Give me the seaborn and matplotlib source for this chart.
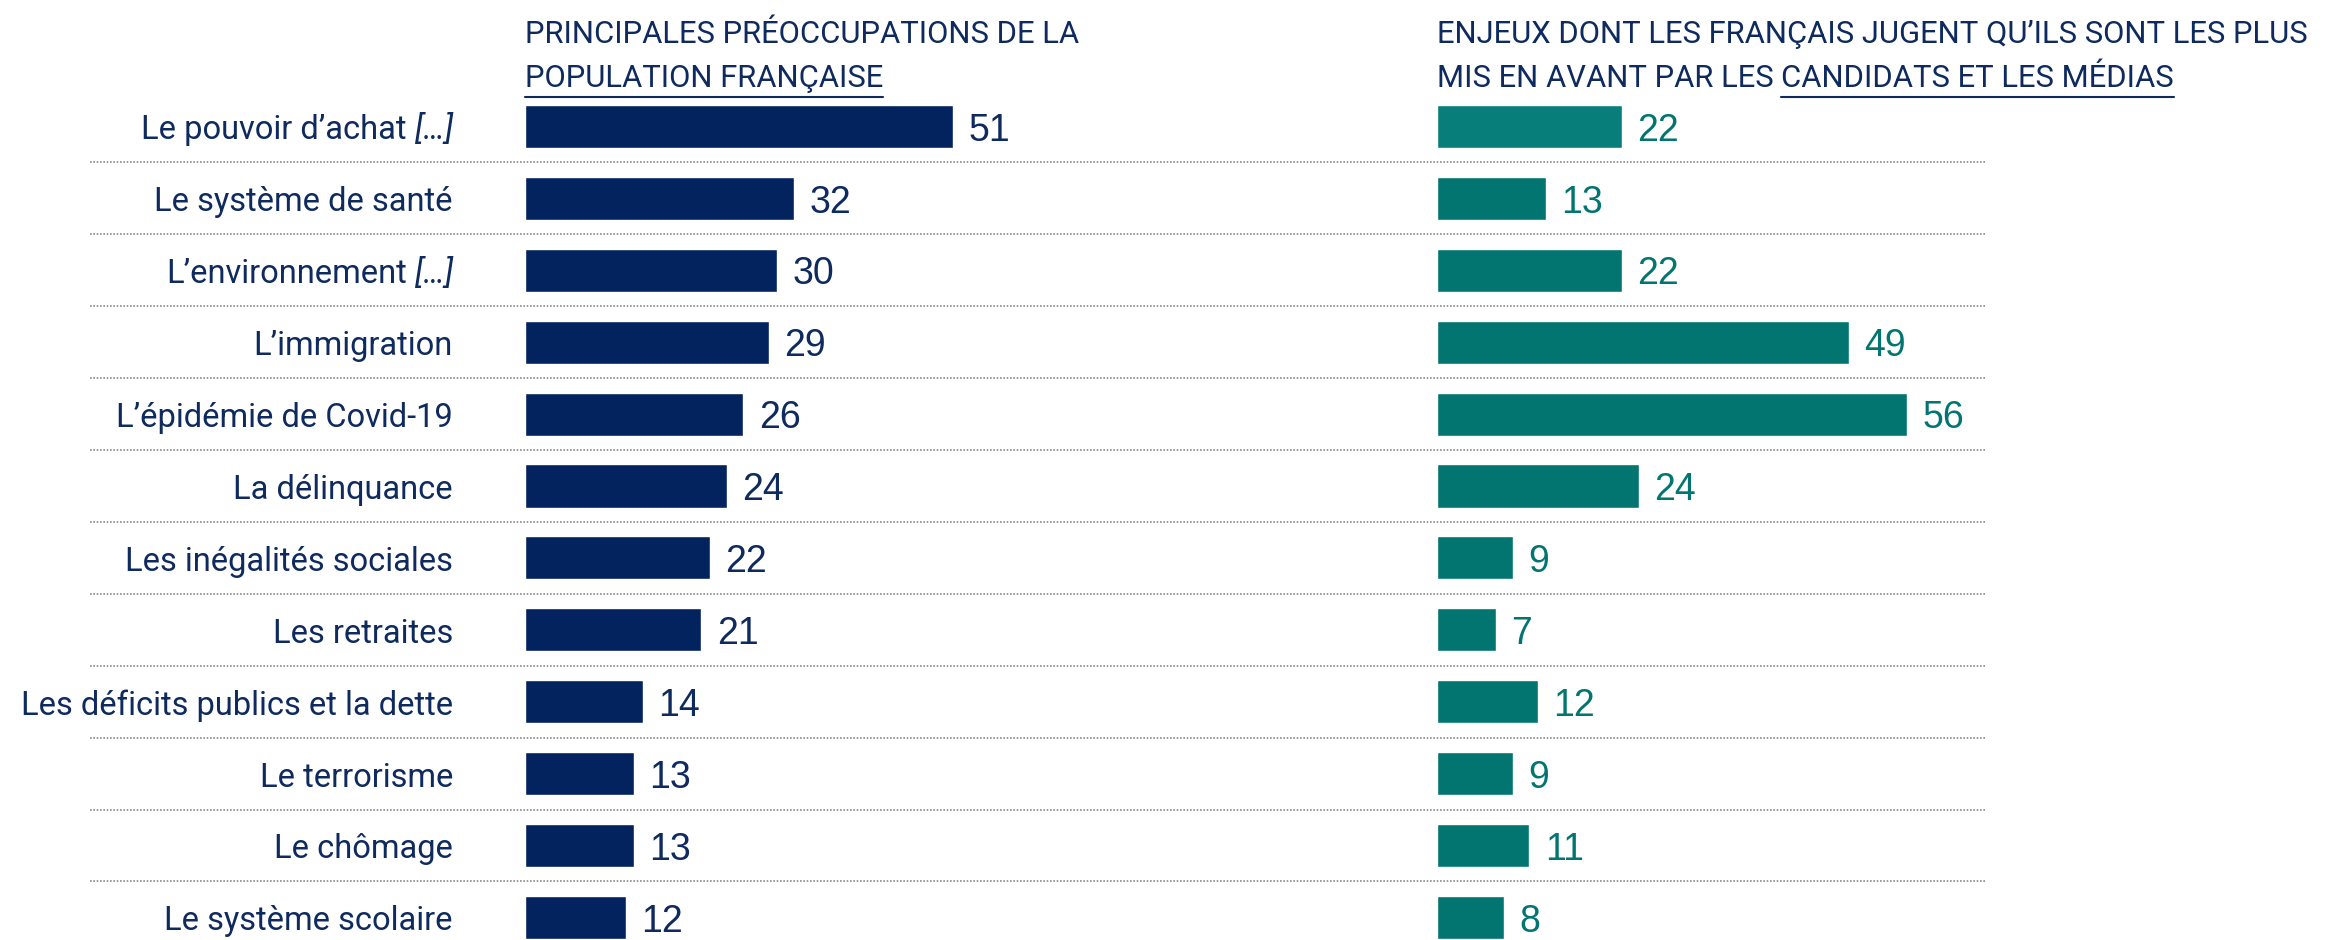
import matplotlib
matplotlib.use("Agg")
import matplotlib.pyplot as plt
import seaborn as sns
import pandas as pd
from matplotlib.lines import Line2D

# Data (percentages)
categories = [
    "Le pouvoir d’achat",
    "Le système de santé",
    "L’environnement",
    "L’immigration",
    "L’épidémie de Covid-19",
    "La délinquance",
    "Les inégalités sociales",
    "Les retraites",
    "Les déficits publics et la dette",
    "Le terrorisme",
    "Le chômage",
    "Le système scolaire",
]
# italic suffix shown after some labels
suffixes = ["[…]", "", "[…]", "", "", "", "", "", "", "", "", ""]
population = [51, 32, 30, 29, 26, 24, 22, 21, 14, 13, 13, 12]
medias = [22, 13, 22, 49, 56, 24, 9, 7, 12, 9, 11, 8]

title_left = ["PRINCIPALES PRÉOCCUPATIONS DE LA", "POPULATION FRANÇAISE"]
title_right = ["ENJEUX DONT LES FRANÇAIS JUGENT QU’ILS SONT LES PLUS",
               "MIS EN AVANT PAR LES", "CANDIDATS ET LES MÉDIAS"]

NAVY = "#03235F"
NAVY_TXT = "#0E2A5E"
TEAL = "#037571"
TEAL_LIGHT = "#077E7A"   # first teal bar is a touch lighter

sns.set_style("white")
plt.rcParams["font.family"] = ["Roboto", "DejaVu Sans"]

# layout in pixels
W, H = 2331, 940
ppu = 8.4             # pixels per percentage point
x_left, x_right = 525, 1437
row0, step = 126.5, 71.9
xmax = 60
top = row0 - 0.5 * step

fig = plt.figure(figsize=(W / 100, H / 100), dpi=100)
ax1 = fig.add_axes([x_left / W, 0, xmax * ppu / W, (H - top) / H])
ax2 = fig.add_axes([x_right / W, 0, xmax * ppu / W, (H - top) / H])

df = pd.DataFrame({"cat": categories, "pop": population, "med": medias})
teal_pal = [TEAL_LIGHT] + [TEAL] * (len(categories) - 1)

sns.barplot(data=df, x="pop", y="cat", ax=ax1, color=NAVY, width=0.6,
            saturation=1, orient="h")
sns.barplot(data=df, x="med", y="cat", hue="cat", palette=teal_pal, legend=False,
            ax=ax2, width=0.6, saturation=1, orient="h")

ybottom = (H - row0) / step
for ax, col in [(ax1, NAVY_TXT), (ax2, TEAL)]:
    ax.set_xlim(0, xmax)
    ax.set_ylim(ybottom, -0.5)
    ax.set_xlabel("")
    ax.set_ylabel("")
    ax.set_xticks([])
    ax.set_yticks([])
    ax.set_facecolor("none")
    sns.despine(ax=ax, left=True, bottom=True)
    for cont in ax.containers:
        anns = ax.bar_label(cont, padding=11, fontsize=27, color=col,
                            family=["Liberation Sans", "DejaVu Sans"])
        for a in anns:
            a.xyann = (11, -3)

# dotted separators between rows
sep_x0 = (90 - x_left) / ppu
sep_x1 = (1985 - x_left) / ppu
ax1.hlines([i + 0.5 for i in range(len(categories) - 1)], sep_x0, sep_x1,
           colors="#8a8a8a", linestyles=(0, (1, 1)), linewidth=1.2, clip_on=False)

fig.canvas.draw()
renderer = fig.canvas.get_renderer()

# category labels, right aligned, italic suffix where needed
lab_x = (453 - x_left) / ppu
lab_size = 23.5
base_off = 0.18
for i, (cat, suf) in enumerate(zip(categories, suffixes)):
    x = lab_x
    if suf:
        t = ax1.text(x, i + base_off, suf, ha="right", va="baseline",
                     fontsize=lab_size, color=NAVY_TXT, style="italic")
        x -= (t.get_window_extent(renderer).width + 8) / ppu
    ax1.text(x, i + base_off, cat, ha="right", va="baseline", fontsize=lab_size,
             color=NAVY_TXT)

# titles
tsize = 22.3
def ftext(x, y, s):
    return fig.text(x / W, 1 - y / H, s, fontsize=tsize, color=NAVY_TXT,
                    va="baseline", ha="left")

def underline(t):
    bb = t.get_window_extent(renderer)
    y = (bb.y0 - 4) / H
    fig.add_artist(Line2D([bb.x0 / W, bb.x1 / W], [y, y],
                          transform=fig.transFigure, color=NAVY_TXT, linewidth=1.5))

ftext(x_left, 43, title_left[0])
tl2 = ftext(x_left, 87, title_left[1])
ftext(x_right, 43, title_right[0])
tr2 = ftext(x_right, 87, title_right[1])

fig.canvas.draw()
bb = tr2.get_window_extent(renderer)
tmp1 = ftext(0, 0, "X X")
tmp2 = ftext(0, 0, "XX")
space = tmp1.get_window_extent(renderer).width - tmp2.get_window_extent(renderer).width
tmp1.remove()
tmp2.remove()
tr3 = ftext(bb.x1 + space, 87, title_right[2])
fig.canvas.draw()
underline(tl2)
underline(tr3)

fig.savefig("out.png", dpi=100)
